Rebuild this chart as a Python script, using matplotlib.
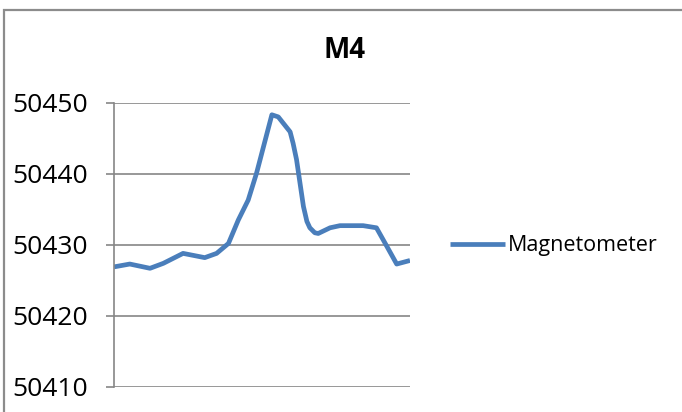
import matplotlib
matplotlib.use('Agg')
import matplotlib.pyplot as plt
from matplotlib.patches import Rectangle

# magnetometer survey, line M4
sample = [0, 3.2, 7.3, 10, 14, 18.4, 20.8, 23.2, 25.2, 27.2, 28.9,
          32, 33.3, 35.7, 36.3, 37, 37.7, 38.4, 39.1, 39.7,
          40.7, 41.4, 43.8, 45.8, 50.5, 53.2, 55.3, 57.3, 60]
field = [50426.9, 50427.3, 50426.7, 50427.4, 50428.8, 50428.2, 50428.8,
         50430.2, 50433.5, 50436.3, 50440.1,
         50448.3, 50448.0, 50445.9, 50444.3, 50442.0, 50438.7, 50435.4,
         50433.3, 50432.4, 50431.7, 50431.6, 50432.4, 50432.7, 50432.7,
         50432.4, 50429.8, 50427.3, 50427.8]
yticks = [50410, 50420, 50430, 50440, 50450]

plt.rcParams['font.family'] = ['Open Sans', 'DejaVu Sans']

W, H = 682, 412
fig = plt.figure(figsize=(W/100, H/100), dpi=100)
fig.patch.set_facecolor('white')

# chart frame, cut off at the right and bottom edges
fig.patches.append(Rectangle((4/W, -0.05), 1.2, 1 - 10/H + 0.05,
                             transform=fig.transFigure, fill=False,
                             edgecolor='#8c8c8c', linewidth=1.6))

ax = fig.add_axes([114/W, 1 - 387/H, (410-114)/W, (387-102.7)/H])
grey = '#868686'
ax.plot(sample, field, color='#4a7ebb', linewidth=3.4, solid_capstyle='butt',
        solid_joinstyle='round', label='Magnetometer')
ax.set_xlim(sample[0], sample[-1])
ax.set_ylim(yticks[0], yticks[-1])
ax.set_yticks(yticks)
ax.set_xticks([])
ax.yaxis.grid(True, color=grey, linewidth=1.2)
ax.set_axisbelow(True)
for s in ['top', 'right', 'bottom']:
    ax.spines[s].set_visible(False)
ax.spines['left'].set_color(grey)
ax.spines['left'].set_linewidth(1.2)
ax.tick_params(axis='y', length=6, width=1.2, color=grey, pad=13,
               labelsize=19, labelcolor='black')

fig.text(344/W, 1 - 50/H, 'M4', ha='center', va='center',
         fontsize=20, fontweight='bold')

leg = fig.legend(*ax.get_legend_handles_labels(), loc='center left',
                 bbox_to_anchor=(450/W, 1 - 245.7/H), frameon=False,
                 fontsize=15.5, handlelength=2.55, handletextpad=0.15,
                 borderpad=0, borderaxespad=0)

fig.savefig('out.png', dpi=100)
